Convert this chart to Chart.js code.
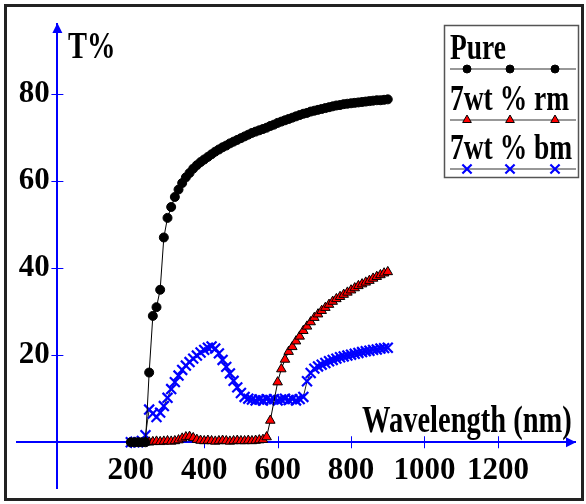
<!DOCTYPE html>
<html>
<head>
<meta charset="utf-8">
<script src="https://cdn.jsdelivr.net/npm/chart.js@4.4.0/dist/chart.umd.min.js"></script>
<style>
  html, body { margin: 0; padding: 0; background: #fff; }
  #wrap { position: relative; width: 586px; height: 504px; }
</style>
</head>
<body>
<div id="wrap"><canvas id="transChart"></canvas></div>
<script>
// wavelength grid (nm)
const wavelengths = [200,210,220,230,240,250,260,270,280,290,300,310,320,330,340,350,360,370,380,390,
  400,410,420,430,440,450,460,470,480,490,500,510,520,530,540,550,560,570,580,590,
  600,610,620,630,640,650,660,670,680,690,700,710,720,730,740,750,760,770,780,790,
  800,810,820,830,840,850,860,870,880,890,900];

// T% values
const pure = [0,0,0,0,0,16,29,31,35,47,51.5,54,56.3,58,59.5,60.8,61.8,62.8,63.6,64.3,
  64.9,65.5,66.1,66.7,67.2,67.7,68.1,68.6,69.0,69.4,69.8,70.2,70.6,71.0,71.3,71.6,71.9,72.2,72.6,72.9,
  73.3,73.6,73.9,74.2,74.5,74.8,75.1,75.4,75.6,75.9,76.1,76.3,76.5,76.7,76.9,77.1,77.3,77.4,77.6,77.7,
  77.8,77.9,78.0,78.1,78.2,78.3,78.4,78.5,78.5,78.6,78.7];
const rm = [null,null,null,null,0,0,0.1,0.2,0.1,0.2,0.3,0.2,0.3,0.5,0.9,1.2,1.3,1.0,0.6,0.4,
  0.3,0.4,0.3,0.2,0.3,0.4,0.3,0.2,0.3,0.4,0.3,0.3,0.4,0.3,0.4,0.5,0.6,1.2,5,null,
  13.8,16.8,19,20.8,21.9,23.2,24.3,25.6,26.6,27.6,28.6,29.4,30.2,30.9,31.6,32.3,32.9,33.4,33.9,34.4,
  34.9,35.4,35.9,36.3,36.7,37.1,37.6,38.0,38.4,38.8,39.1];
const bm = [0,0,0,0.3,1.6,7.5,6.6,5.8,6.8,8.3,10.2,12.2,13.8,15.3,16.6,17.6,18.4,19.2,19.9,20.6,
  21.2,21.7,22.0,21.5,20.4,18.9,17.3,15.8,14.1,12.6,11.3,10.4,10.0,9.8,9.6,9.8,9.6,9.9,9.7,9.9,
  9.6,9.8,10.0,9.7,9.9,9.6,9.9,10.4,14.0,15.9,16.9,17.4,17.8,18.2,18.6,18.9,19.2,19.5,19.7,19.9,
  20.1,20.3,20.5,20.7,20.9,21.0,21.2,21.3,21.5,21.6,21.7];

const xTicks = [200, 400, 600, 800, 1000, 1200];
const yTicks = [20, 40, 60, 80];

const serif = '"Liberation Serif", "Times New Roman", serif';
const blue = "#0000ff";

const toXY = vals => wavelengths.map((w, i) => ({ x: w, y: vals[i] }));

// bold serif, stretched upward like the original lettering
function tallText(ctx, txt, x, base, size) {
  ctx.save();
  ctx.translate(x, base);
  ctx.scale(1, 1.3);
  ctx.font = "bold " + size + "px " + serif;
  ctx.fillStyle = "#000";
  ctx.textAlign = "left";
  ctx.textBaseline = "alphabetic";
  ctx.fillText(txt, 0, 0);
  ctx.restore();
}

// axes arrows + tick crosses, then titles, legend box and frame
const decor = {
  id: "decor",
  beforeDatasetsDraw(chart) {
    const { ctx, chartArea: ca, scales: { x, y } } = chart;
    const x0 = x.getPixelForValue(0), y0 = y.getPixelForValue(0);
    ctx.save();
    ctx.strokeStyle = blue;
    ctx.lineWidth = 1;
    ctx.beginPath();
    xTicks.forEach(v => {
      const px = Math.round(x.getPixelForValue(v)) + 0.5;
      ctx.moveTo(px, y0 - 6); ctx.lineTo(px, y0 + 6);
    });
    yTicks.forEach(v => {
      const py = Math.round(y.getPixelForValue(v)) + 0.5;
      ctx.moveTo(x0 - 6, py); ctx.lineTo(x0 + 6, py);
    });
    ctx.stroke();
    ctx.fillStyle = blue;
    ctx.beginPath();
    ctx.moveTo(ca.right + 1, y0);
    ctx.lineTo(ca.right - 9, y0 - 5);
    ctx.lineTo(ca.right - 9, y0 + 5);
    ctx.closePath();
    ctx.fill();
    ctx.beginPath();
    ctx.moveTo(x0, ca.top - 1);
    ctx.lineTo(x0 - 5, ca.top + 9);
    ctx.lineTo(x0 + 5, ca.top + 9);
    ctx.closePath();
    ctx.fill();
    ctx.restore();
  },
  afterDraw(chart) {
    const ctx = chart.ctx;
    tallText(ctx, "T%", 68, 58, 28.5);
    tallText(ctx, "Wavelength (nm)", 362, 432, 28.5);

    // legend
    ctx.save();
    ctx.strokeStyle = "#555";
    ctx.lineWidth = 1.5;
    ctx.strokeRect(444.5, 25.5, 134, 152);
    const rows = [59, 110, 159];
    chart.data.datasets.forEach((ds, i) => {
      tallText(ctx, ds.label, 450, rows[i], 27.5);
      const ly = rows[i] + 10;
      ctx.strokeStyle = "#333";
      ctx.lineWidth = 1.2;
      ctx.beginPath();
      ctx.moveTo(450, ly); ctx.lineTo(576, ly);
      ctx.stroke();
      [467, 510, 555].forEach(mx => {
        ctx.fillStyle = ds.pointBackgroundColor || "transparent";
        ctx.strokeStyle = ds.pointBorderColor;
        ctx.lineWidth = ds.pointBorderWidth;
        Chart.helpers.drawPoint(ctx, {
          pointStyle: ds.pointStyle, radius: ds.pointRadius - 0.5,
          rotation: 0, borderWidth: ds.pointBorderWidth
        }, mx, ly);
      });
    });

    // outer frame
    ctx.strokeStyle = "#222";
    ctx.lineWidth = 3;
    ctx.strokeRect(5.5, 5.5, 577, 494);
    ctx.restore();
  }
};

new Chart(document.getElementById("transChart"), {
  type: "line",
  data: {
    datasets: [{
      label: "Pure",
      data: toXY(pure),
      borderColor: "#000",
      borderWidth: 1,
      pointStyle: "circle",
      pointRadius: 4.5,
      pointBackgroundColor: "#000",
      pointBorderColor: "#000",
      pointBorderWidth: 1
    }, {
      label: "7wt % rm",
      data: toXY(rm),
      borderColor: "#000",
      borderWidth: 1,
      spanGaps: true,
      pointStyle: "triangle",
      pointRadius: 5.5,
      pointBackgroundColor: "#ff0000",
      pointBorderColor: "#000",
      pointBorderWidth: 1
    }, {
      label: "7wt % bm",
      data: toXY(bm),
      borderColor: "#222",
      borderWidth: 1,
      pointStyle: "crossRot",
      pointRadius: 7,
      pointBorderColor: blue,
      pointBorderWidth: 2.2
    }]
  },
  options: {
    responsive: true,
    maintainAspectRatio: false,
    animation: false,
    layout: { padding: { left: 17, right: 11, top: 24, bottom: 16 } },
    plugins: { legend: { display: false }, tooltip: { enabled: false } },
    scales: {
      x: {
        type: "linear",
        min: -110, max: 1410,
        position: { y: 0 },
        grid: { display: false },
        border: { color: blue, width: 2 },
        afterBuildTicks: axis => { axis.ticks = xTicks.map(v => ({ value: v })); },
        ticks: { color: "#000", padding: 5, maxRotation: 0, autoSkip: false,
                 callback: v => String(v),
                 font: { family: serif, size: 31, weight: "bold", lineHeight: 1 } }
      },
      y: {
        type: "linear",
        min: -10.5, max: 96,
        position: { x: 0 },
        grid: { display: false },
        border: { color: blue, width: 2 },
        afterBuildTicks: axis => { axis.ticks = yTicks.map(v => ({ value: v })); },
        ticks: { color: "#000", padding: 0,
                 callback: v => v + " ",
                 font: { family: serif, size: 31, weight: "bold", lineHeight: 1 } }
      }
    }
  },
  plugins: [decor]
});
</script>
</body>
</html>
